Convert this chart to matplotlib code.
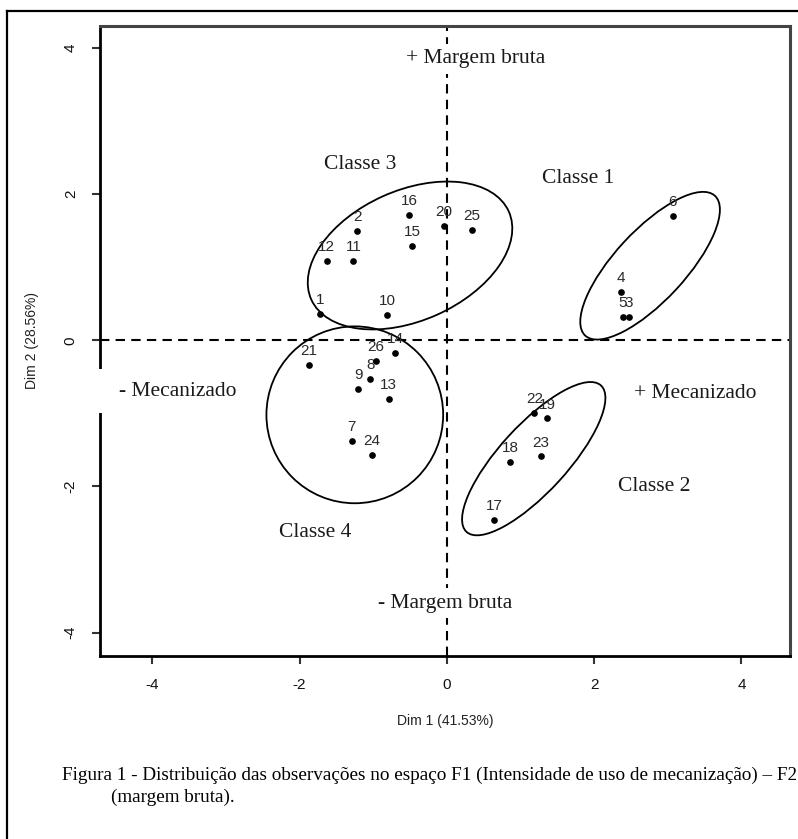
import matplotlib
matplotlib.use('Agg')
import matplotlib.pyplot as plt
from matplotlib.patches import Ellipse, Rectangle
from matplotlib.lines import Line2D

plt.rcParams['axes.unicode_minus'] = False

# observation scores on the first two dimensions
labels = ['1', '2', '3', '4', '5', '6', '7', '8', '9', '10', '11', '12', '13',
          '14', '15', '16', '17', '18', '19', '20', '21', '22', '23', '24', '25', '26']
dim1 = [-1.72, -1.22, 2.47, 2.36, 2.39, 3.07, -1.29, -1.04, -1.20, -0.81, -1.27, -1.63, -0.79,
        -0.70, -0.47, -0.51, 0.64, 0.86, 1.36, -0.04, -1.87, 1.19, 1.28, -1.02, 0.34, -0.96]
dim2 = [0.36, 1.50, 0.32, 0.66, 0.32, 1.70, -1.38, -0.53, -0.66, 0.35, 1.09, 1.09, -0.80,
        -0.17, 1.29, 1.72, -2.46, -1.67, -1.07, 1.56, -0.34, -0.99, -1.59, -1.57, 1.51, -0.28]

# class ellipses: centre, full width, full height, angle (deg)
class_names = ['Classe 1', 'Classe 2', 'Classe 3', 'Classe 4']
ell_cx = [2.76, 1.18, -0.50, -1.25]
ell_cy = [1.02, -1.62, 1.16, -1.02]
ell_w = [2.60, 2.71, 2.94, 2.40]
ell_h = [0.96, 0.92, 1.78, 2.42]
ell_ang = [47.4, 47.7, 24.3, 0.0]
class_lx = [1.78, 2.81, -1.17, -1.79]
class_ly = [2.22, -2.00, 2.40, -2.63]

xticks = [-4, -2, 0, 2, 4]
yticks = [-4, -2, 0, 2, 4]

W, H = 798, 839
fig = plt.figure(figsize=(W / 100, H / 100), dpi=100)
ax = fig.add_axes([100 / W, 1 - 656 / H, 690 / W, 630 / H])
ax.set_xlim(-4.71, 4.66)
ax.set_ylim(-4.32, 4.30)

ax.axhline(0, color='black', lw=1.5, ls=(0, (4.5, 3)), zorder=1)
ax.axvline(0, color='black', lw=1.5, ls=(0, (4.5, 3)), zorder=1)

ax.plot(dim1, dim2, 'o', color='black', ms=3.8, zorder=4)
for lab, x, y in zip(labels, dim1, dim2):
    ax.annotate(lab, (x, y), xytext=(0, 5), textcoords='offset points',
                ha='center', va='bottom', fontsize=11, color='#2a2a2a',
                family='Liberation Sans')

for cx, cy, w, h, a in zip(ell_cx, ell_cy, ell_w, ell_h, ell_ang):
    ax.add_patch(Ellipse((cx, cy), w, h, angle=a, fill=False, ec='black', lw=1.3))

serif = dict(family='Liberation Serif', fontsize=15.5, color='#1a1a1a',
             ha='center', va='center')
white = dict(boxstyle='square,pad=0.25', fc='white', ec='none')
for name, x, y in zip(class_names, class_lx, class_ly):
    ax.text(x, y, name, **serif)
ax.text(0.39, 3.85, '+ Margem bruta', bbox=white, **serif)
ax.text(-0.03, -3.60, '- Margem bruta', bbox=white, **serif)
ax.text(3.37, -0.73, '+ Mecanizado', **serif)
ax.add_patch(Rectangle((-3 / 690, (656 - 413) / 630), 148 / 690, 44 / 630,
                       transform=ax.transAxes, fc='white', ec='none',
                       clip_on=False, zorder=5))
ax.text(-3.65, -0.70, '- Mecanizado', zorder=6, **serif)

for side in ['left', 'bottom']:
    ax.spines[side].set_linewidth(2.0)
    ax.spines[side].set_color('black')
for side in ['top', 'right']:
    ax.spines[side].set_linewidth(2.2)
    ax.spines[side].set_color('#444444')

ax.set_xticks(xticks)
ax.set_yticks(yticks)
ax.tick_params(direction='out', length=6, width=1.5, color='#333333',
               labelsize=11, labelcolor='#111111')
ax.tick_params(axis='x', pad=10)
ax.tick_params(axis='y', pad=10)
for t in ax.get_yticklabels():
    t.set_rotation(90)
    t.set_va('center')
for t in ax.get_xticklabels() + ax.get_yticklabels():
    t.set_family('Liberation Sans')

ax.set_xlabel('Dim 1 (41.53%)', family='Liberation Sans', fontsize=10,
              color='#222222', labelpad=16)
ax.set_ylabel('Dim 2 (28.56%)', family='Liberation Sans', fontsize=10,
              color='#222222', labelpad=18)

# outer frame (cut at right and bottom)
fig.add_artist(Line2D([7 / W, 7 / W], [0, 1 - 11 / H], color='black', lw=1.6))
fig.add_artist(Line2D([7 / W, 1], [1 - 11 / H, 1 - 11 / H], color='black', lw=1.6))

cap = fig.text(62 / W, 1 - 775 / H,
               'Figura 1 - Distribuição das observações no espaço F1 '
               '(Intensidade de uso de mecanização) – F2',
               family='Liberation Serif', fontsize=13, va='center', ha='left')
fig.canvas.draw()
wpx = cap.get_window_extent().width
fs = 13 * 733 / wpx
cap.set_fontsize(fs)
fig.text(111 / W, 1 - 797 / H, '(margem bruta).', family='Liberation Serif',
         fontsize=fs, va='center', ha='left')

fig.savefig('out.png', dpi=100)
